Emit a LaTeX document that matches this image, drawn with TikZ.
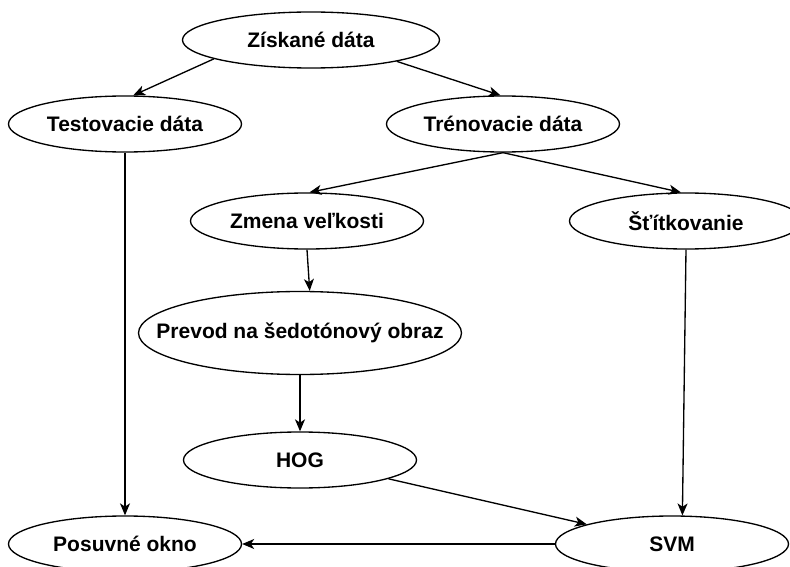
\documentclass[tikz,border=0pt]{standalone}
\usepackage{fontspec}
\setmainfont{Liberation Sans}
\usepackage{tikz}
\usetikzlibrary{shapes.geometric,arrows.meta}
\newcommand{\nowidth}[1]{\makebox[0pt]{#1}}

\begin{document}
\begin{tikzpicture}[
    x=0.75pt, y=-0.75pt,
    etape/.style={draw, ellipse, line width=1pt, inner sep=0pt,
      minimum width=174.75pt, minimum height=42pt,
      font=\fontsize{15.75}{18}\selectfont\bfseries},
    fleche/.style={-{Stealth[length=9pt,width=7.5pt,inset=2.5pt]}, line width=1pt},
  ]
  \useasboundingbox (0,0) rectangle (790,567);
  % les etapes
  \node[etape, minimum width=192.75pt] (ziskane) at (311,40) {Získané dáta};
  \node[etape] (testovacie)  at (125,124) {Testovacie dáta};
  \node[etape] (trenovacie)  at (503,124) {Trénovacie dáta};
  \node[etape] (zmena)       at (307,221) {Zmena veľkosti};
  \node[etape] (stitkovanie) at (686,221) {Šťítkovanie};
  \node[etape, minimum width=242.25pt, minimum height=62.25pt]
    (prevod) at (300,333) {\nowidth{Prevod na šedotónový obraz}};
  \node[etape] (hog)     at (300,460) {HOG};
  \node[etape] (posuvne) at (125,544) {Posuvné okno};
  \node[etape] (svm)     at (672,544) {SVM};

  \draw[fleche] (ziskane.191) -- (testovacie.74);
  \draw[fleche] (ziskane.-14) -- (trenovacie.95);
  \draw[fleche] (trenovacie.south) -- (zmena.85);
  \draw[fleche] (trenovacie.south) -- (stitkovanie.100);
  \draw[fleche] (zmena.south) -- (prevod.77);
  \draw[fleche] (prevod.south) -- (hog.north);
  \draw[fleche] (testovacie.south) -- (posuvne.north);
  \draw[fleche] (stitkovanie.south) -- (svm.70);
  \draw[fleche] (hog.-12) -- (svm.167);
  \draw[fleche] (svm.west) -- (posuvne.east);
\end{tikzpicture}
\end{document}
